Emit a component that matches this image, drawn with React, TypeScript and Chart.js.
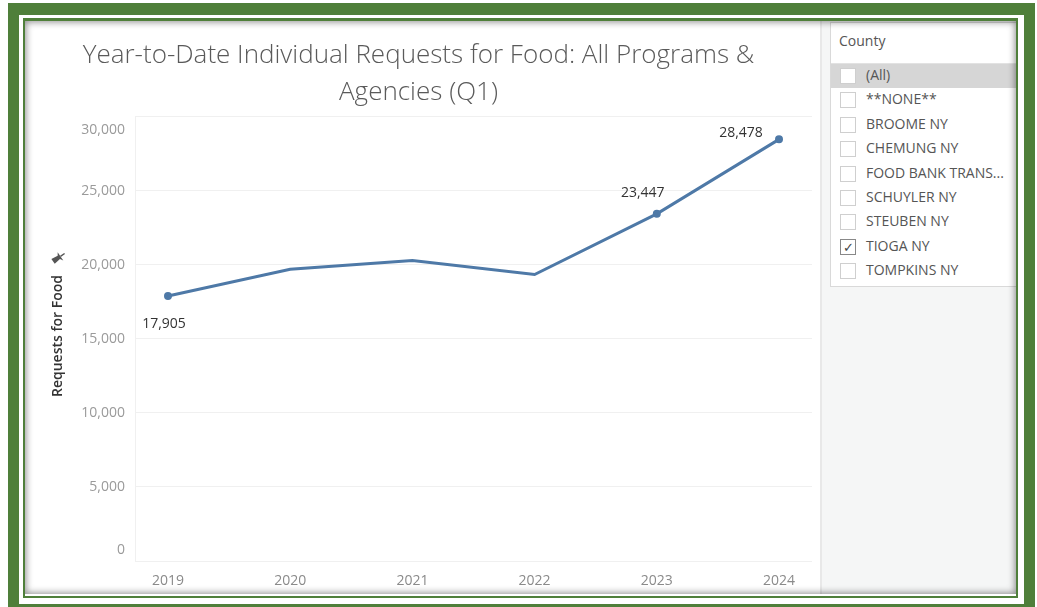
import React, { useEffect, useRef } from "react";
import { Chart, registerables } from "chart.js";

Chart.register(...registerables);

const years = [2019, 2020, 2021, 2022, 2023, 2024];
const requests = [17905, 19700, 20300, 19350, 23447, 28478];
const labeledPoints = [true, false, false, false, true, true];
const yTicks = [0, 5000, 10000, 15000, 20000, 25000, 30000];
const titleLines = ["Year-to-Date Individual Requests for Food: All Programs &", "Agencies (Q1)"];
const yTitle = "Requests for Food";
const filterTitle = "County";
const counties = ["(All)", "**NONE**", "BROOME NY", "CHEMUNG NY", "FOOD BANK TRANS...", "SCHUYLER NY", "STEUBEN NY", "TIOGA NY", "TOMPKINS NY"];
const checked = [false, false, false, false, false, false, false, true, false];

const FONT = "'Open Sans', 'Noto Sans', sans-serif";
const GREEN = "#4f7f3a";
const fmt = (v: number) => v.toLocaleString("en-US");

const textPlugin = {
  id: "textPlugin",
  afterDraw(chart: any) {
    const ctx = chart.ctx;
    const y = chart.scales.y;
    ctx.save();
    ctx.font = `14px ${FONT}`;
    ctx.fillStyle = "#9a9a9a";
    ctx.textAlign = "right";
    ctx.textBaseline = "middle";
    yTicks.forEach((v, i) => {
      let py = y.getPixelForValue(v);
      if (i === 0) py -= 11;
      if (i === yTicks.length - 1) py += 13;
      ctx.fillText(fmt(v), 100, py);
    });
    // axis title
    ctx.save();
    ctx.translate(33, 315);
    ctx.rotate(-Math.PI / 2);
    ctx.font = `600 14px ${FONT}`;
    ctx.fillStyle = "#333";
    ctx.textAlign = "center";
    ctx.fillText(yTitle, 0, 0);
    // pin
    ctx.translate(78, 0);
    ctx.rotate(-0.6);
    ctx.fillStyle = "#555";
    ctx.beginPath();
    ctx.moveTo(-3, -6);
    ctx.lineTo(3, -6);
    ctx.lineTo(2, 1);
    ctx.lineTo(5, 3);
    ctx.lineTo(-5, 3);
    ctx.lineTo(-2, 1);
    ctx.closePath();
    ctx.fill();
    ctx.fillRect(-0.7, 3, 1.4, 5);
    ctx.restore();
    // data labels
    const meta = chart.getDatasetMeta(0);
    const offs: Record<number, [number, number]> = { 0: [-4, 28], 4: [-14, -21], 5: [-38, -6] };
    ctx.font = `14px ${FONT}`;
    ctx.fillStyle = "#333";
    ctx.textAlign = "center";
    requests.forEach((v, i) => {
      if (!labeledPoints[i]) return;
      const el = meta.data[i];
      const o = offs[i] || [0, -14];
      ctx.fillText(fmt(v), el.x + o[0], el.y + o[1]);
    });
    ctx.restore();
  },
};

export default function App() {
  const ref = useRef<HTMLCanvasElement | null>(null);
  useEffect(() => {
    if (!ref.current) return;
    const chart = new Chart(ref.current, {
      type: "line",
      data: {
        datasets: [
          {
            data: years.map((x, i) => ({ x, y: requests[i] })),
            borderColor: "#4e79a7",
            backgroundColor: "#4e79a7",
            borderWidth: 3,
            pointRadius: labeledPoints.map((l) => (l ? 2.5 : 0)),
            tension: 0,
          },
        ],
      },
      options: {
        animation: false,
        responsive: false,
        layout: { padding: { left: 0, right: 8, top: 0, bottom: 0 } },
        plugins: {
          legend: { display: false },
          tooltip: { enabled: false },
          title: {
            display: true,
            text: titleLines,
            color: "#5a5a5a",
            font: { family: FONT, size: 26, weight: "300", lineHeight: 1.42 },
            padding: { top: 16, bottom: 6 },
          },
        },
        scales: {
          x: {
            type: "linear",
            min: 2018.73,
            max: 2024.27,
            grid: { display: false },
            border: { display: false },
            afterBuildTicks: (s: any) => {
              s.ticks = years.map((v) => ({ value: v }));
            },
            afterFit: (s: any) => {
              s.height = 33;
            },
            ticks: {
              color: "#8a8a8a",
              font: { family: FONT, size: 14 },
              padding: 4,
              callback: (v: any) => String(v),
            },
          },
          y: {
            min: 0,
            max: 30000,
            afterBuildTicks: (s: any) => {
              s.ticks = yTicks.map((v) => ({ value: v }));
            },
            afterFit: (s: any) => {
              s.width = 110;
            },
            grid: { color: "#f0f0f0", drawTicks: false },
            border: { color: "#f0f0f0" },
            ticks: { display: false },
          },
        },
      },
      plugins: [textPlugin],
    });
    return () => chart.destroy();
  }, []);

  const rowH = 24.4;
  return (
    <div style={{ position: "fixed", left: 0, top: 0, width: 1037, height: 607, background: "#fff", overflow: "hidden", fontFamily: FONT }}>
      <div style={{ position: "absolute", left: 8, top: 3, width: 1027, height: 612, border: `11px solid ${GREEN}`, borderTopWidth: 12, boxSizing: "border-box" }} />
      <div style={{ position: "absolute", left: 23, top: 18, width: 995, height: 580, border: `2.5px solid ${GREEN}`, borderTopWidth: 3, boxSizing: "border-box" }} />
      <div style={{ position: "absolute", left: 25, top: 21, width: 991, height: 573, background: "#fff", overflow: "hidden" }}>
        <canvas ref={ref} width={795} height={573} style={{ position: "absolute", left: 0, top: 0, width: 795, height: 573 }} />
        <div style={{ position: "absolute", left: 795, top: 0, width: 196, height: 573, background: "#f5f6f6", borderLeft: "2px solid #e8e8e8", boxSizing: "border-box" }} />
        <div style={{ position: "absolute", left: 805, top: 1, width: 200, height: 265, background: "#fff", border: "1px solid #d9d9d9", boxSizing: "border-box" }}>
          <div style={{ position: "absolute", left: 8, top: 8, fontSize: 14, color: "#555" }}>{filterTitle}</div>
          <div style={{ position: "absolute", left: 0, top: 40, width: "100%", borderTop: "1px solid #e2e2e2" }} />
          {counties.map((c, i) => (
            <div key={c} style={{ position: "absolute", left: 0, top: 41 + i * rowH, width: "100%", height: rowH, background: i === 0 ? "#d6d6d6" : "transparent" }}>
              <div style={{ position: "absolute", left: 9, top: 4, width: 16, height: 16, boxSizing: "border-box", border: `1px solid ${checked[i] ? "#888" : "#cfcfcf"}`, background: "#fff", fontSize: 13, lineHeight: "14px", textAlign: "center", color: "#444" }}>{checked[i] ? "✓" : ""}</div>
              <div style={{ position: "absolute", left: 35, top: 1, fontSize: 14, color: "#555", whiteSpace: "nowrap", lineHeight: "20px" }}>{c}</div>
            </div>
          ))}
        </div>
        <div style={{ position: "absolute", inset: 0, boxShadow: "inset 0 0 7px 1px rgba(0,0,0,0.45)", pointerEvents: "none" }} />
      </div>
    </div>
  );
}
